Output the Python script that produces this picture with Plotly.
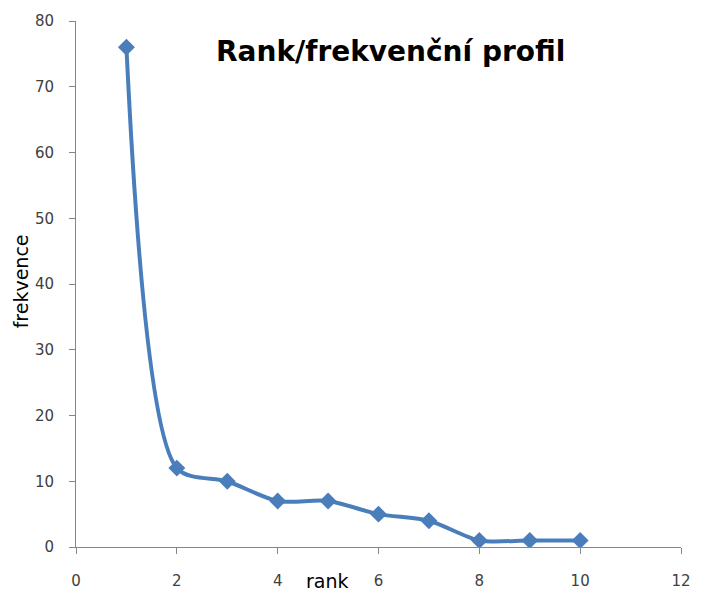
import plotly.graph_objects as go

rank = [1, 2, 3, 4, 5, 6, 7, 8, 9, 10]
frekvence = [76, 12, 10, 7, 7, 5, 4, 1, 1, 1]
x_ticks = [0, 2, 4, 6, 8, 10, 12]
y_ticks = [0, 10, 20, 30, 40, 50, 60, 70, 80]

fig = go.Figure(go.Scatter(
    x=rank, y=frekvence, mode="lines+markers",
    line=dict(color="#4a7ebb", width=4, shape="spline", smoothing=0.8),
    marker=dict(symbol="diamond", size=13, color="#4a7ebb"),
    showlegend=False,
))

axis_common = dict(
    showgrid=False, zeroline=False, showline=True, linecolor="#868686", linewidth=1,
    ticks="outside", ticklen=6, tickcolor="#868686",
    tickfont=dict(family="DejaVu Sans", size=15, color="#404040"),
)
fig.update_xaxes(range=[0, 12], tickvals=x_ticks, ticklabelstandoff=14, **axis_common)
fig.update_yaxes(range=[0, 80], tickvals=y_ticks, ticklabelstandoff=12, **axis_common)

fig.add_annotation(text="<b>Rank/frekvenční profil</b>", xref="paper", yref="paper",
                   x=0.52, y=1.0, yshift=-30, showarrow=False, yanchor="middle",
                   font=dict(family="DejaVu Sans", size=28, color="#000000"))
fig.add_annotation(text="rank", xref="paper", yref="paper", x=0.415, y=0, yshift=-34,
                   showarrow=False, yanchor="middle",
                   font=dict(family="DejaVu Sans", size=19, color="#000000"))
fig.add_annotation(text="frekvence", xref="paper", yref="paper", x=0, xshift=-55,
                   y=0.505, showarrow=False, textangle=-90, xanchor="center",
                   font=dict(family="DejaVu Sans", size=19, color="#000000"))

fig.update_layout(
    width=703, height=602,
    margin=dict(l=76, r=12, t=18, b=45),
    plot_bgcolor="white", paper_bgcolor="white",
)
fig.write_html("out.html",
               config={"displayModeBar": False},
               post_script="document.body.style.margin='0';document.body.style.overflow='hidden';")
